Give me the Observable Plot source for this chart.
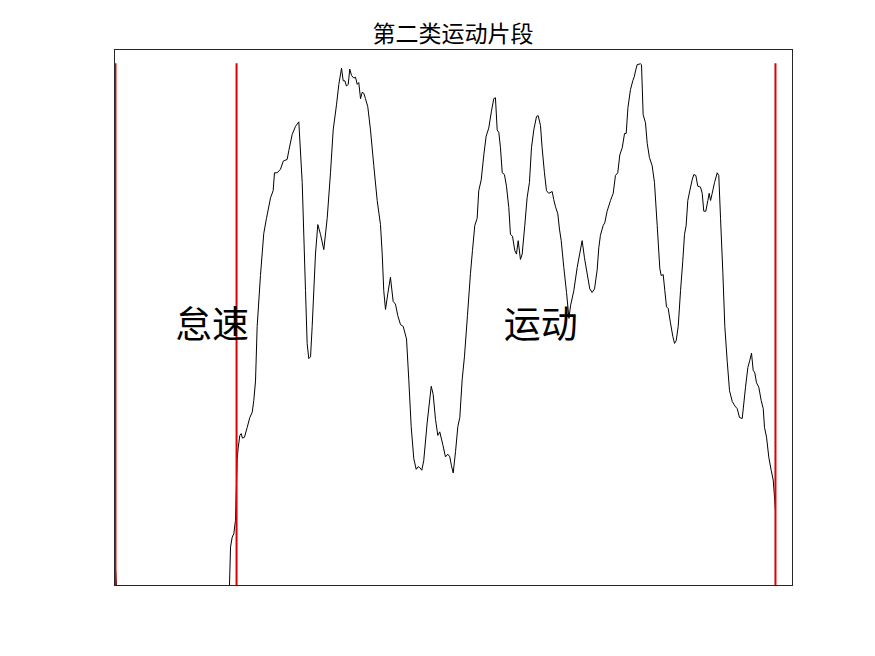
<!DOCTYPE html>
<html>
<head>
<meta charset="utf-8">
<script src="https://cdn.jsdelivr.net/npm/d3@7"></script>
<script src="https://cdn.jsdelivr.net/npm/@observablehq/plot@0.6"></script>
<style>
  html, body { margin: 0; padding: 0; background: #fff; }
  #wrap { width: 875px; height: 656px; position: relative; overflow: hidden; }
  #title { height: 40px; position: relative; }
  #title span { position: absolute; top: 21px; left: 114px; width: 678px; text-align: center;
    font-family: "Noto Sans CJK SC", sans-serif; font-size: 23px; line-height: 23px; color: #000; }
  svg { display: block; }
</style>
</head>
<body>
<div id="wrap">
  <div id="title"><span>第二类运动片段</span></div>
  <div id="chart"></div>
</div>
<script>
const titleText = "第二类运动片段";

const time = [1,2,118.7,119.8,121.5,123.2,124.9,126.7,127.7,129.4,130.8,132.1,134.2,137.0,139.7,142.2,143.8,145.6,147.3,150.7,154.1,156.9,161.1,163.8,165.2,168.0,171.4,174.2,178.3,180.0,183.5,186.9,190.3,193.8,197.2,198.9,200.6,202.4,204.1,207.5,209.9,212.7,216.1,219.6,223.0,225.8,229.2,231.6,234.4,236.1,237.8,239.5,241.3,242.9,244.7,247.1,248.8,250.6,252.2,254.0,255.7,257.4,259.1,261.5,264.3,267.7,271.2,274.6,276.4,278.0,279.8,282.2,284.9,287.7,290.1,292.5,295.3,298.1,301.5,303.8,306.3,309.0,311.5,313.5,315.2,317.3,319.3,322.8,327.0,329.0,331.4,333.8,335.8,338.9,341.7,344.1,346.2,347.9,349.7,352.1,354.5,356.5,359.0,361.3,364.4,367.5,369.6,372.0,374.4,376.1,378.6,381.3,383.7,386.4,389.2,391.6,393.3,395.1,396.8,398.5,400.3,402.6,404.7,407.1,408.8,410.9,413.3,415.0,416.8,419.1,420.9,423.6,426.0,428.4,430.5,432.9,435.7,437.4,439.8,441.5,443.9,446.0,448.4,451.9,453.5,455.3,457.7,459.4,461.2,463.9,466.7,469.2,470.8,474.2,477.7,480.4,482.8,485.2,488.0,490.7,493.1,495.6,498.3,500.0,501.7,504.5,506.2,508.6,512.1,514.9,517.2,519.6,521.7,524.2,526.6,528.3,530.1,532.7,535.1,536.8,537.9,539.6,543.0,544.1,545.8,548.2,550.0,552.3,555.1,557.5,560.3,563.0,564.4,566.5,568.2,569.9,571.7,574.0,576.4,578.2,579.9,582.0,584.4,586.7,588.5,590.2,591.9,594.0,596.4,598.1,600.2,602.2,605.0,606.8,608.4,610.5,612.6,614.0,615.4,617.1,619.5,622.3,623.9,625.7,628.1,630.1,632.6,635.0,637.8,639.4,641.2,642.9,645.3,648.1,651.5,653.9,655.9,657.7,659.4,661.1,662.8,665.2,667.7,669.8,671.1,673.2,675.6,678.0,680.1,681.4,682.4];

const speed = [2.0,0,0,4.3,5.4,5.8,7.3,14.2,15.4,16.8,17.0,16.5,16.6,17.7,18.8,19.4,20.7,22.9,29.0,34.7,39.4,41.1,43.4,44.2,46.2,46.2,46.6,47.5,47.7,48.7,50.5,51.4,51.9,45.1,33.0,27.1,25.4,25.6,29.0,37.1,40.4,39.3,37.6,41.1,46.2,51.0,53.8,56.1,57.9,56.5,56.5,55.9,56.1,57.8,57.1,56.8,56.9,56.1,56.3,54.5,55.2,55.1,54.5,53.6,51.0,47.0,43.1,40.4,37.1,33.0,30.9,32.7,34.5,31.8,31.5,30.2,29.2,29.0,27.6,23.1,17.8,14.2,13.0,13.3,13.2,12.9,14.0,18.2,22.3,21.4,18.6,16.8,17.2,15.8,14.4,14.7,14.4,13.4,12.6,15.0,17.8,18.8,23.1,25.6,30.2,34.9,37.5,40.3,41.1,44.2,45.4,48.2,50.3,51.2,53.1,54.5,54.6,51.0,50.7,49.0,46.2,46.0,44.7,42.3,39.3,39.1,37.5,37.1,38.6,36.5,37.1,40.3,43.4,45.1,49.0,51.0,52.5,52.6,51.5,49.0,46.2,44.2,43.9,44.1,43.2,42.4,41.6,39.9,38.6,35.6,32.8,29.9,31.3,33.0,35.6,37.2,38.6,36.7,34.9,33.2,32.8,33.2,35.3,37.8,39.2,40.3,40.6,41.9,43.1,43.9,45.9,46.2,48.2,49.0,50.6,50.6,53.5,55.5,56.5,57.0,57.6,58.3,58.4,58.3,52.7,51.8,49.5,47.9,47.0,45.1,40.3,35.5,34.7,34.8,33.0,31.2,31.0,29.4,27.9,27.1,27.4,29.0,33.0,36.3,39.3,40.3,43.1,44.2,45.4,46.0,45.9,44.7,44.6,43.9,41.9,41.9,43.1,43.9,43.1,43.9,45.1,46.2,45.9,41.1,35.0,29.0,25.1,21.8,20.6,20.3,20.0,19.8,18.8,18.7,22.2,24.4,25.2,26.0,24.1,23.8,22.7,22.2,20.7,19.8,17.7,16.6,14.3,12.9,11.8,9.9,8.4];

const cutTimes = [1, 126, 682.4];
const labelText = ["怠速", "运动"];
const labelTime = [62.5, 402];
const labelSpeed = [29, 29];

const series = time.map((t, i) => ({t, v: speed[i]}));
const maxSpeed = d3.max(speed);
const cuts = cutTimes.map(t => ({t, y1: 0, y2: maxSpeed}));
const labels = labelText.map((s, i) => ({s, t: labelTime[i], v: labelSpeed[i]}));

const chart = Plot.plot({
  width: 875,
  height: 616,
  marginLeft: 114,
  marginRight: 83,
  marginTop: 9,
  marginBottom: 71,
  style: {background: "#fff"},
  x: {domain: [0, 700], axis: null},
  y: {domain: [0, 60], axis: null},
  marks: [
    Plot.line(series, {x: "t", y: "v", stroke: "#000", strokeWidth: 1}),
    Plot.ruleX(cuts, {x: "t", y1: "y1", y2: "y2", stroke: "#e00000", strokeWidth: 2}),
    Plot.text(labels, {x: "t", y: "v", text: "s", textAnchor: "start", lineAnchor: "middle",
      fontSize: 37, fill: "#000", fontFamily: "Noto Sans CJK SC"}),
    Plot.frame({stroke: "#262626", strokeWidth: 1})
  ]
});
document.getElementById("chart").appendChild(chart);
</script>
</body>
</html>
